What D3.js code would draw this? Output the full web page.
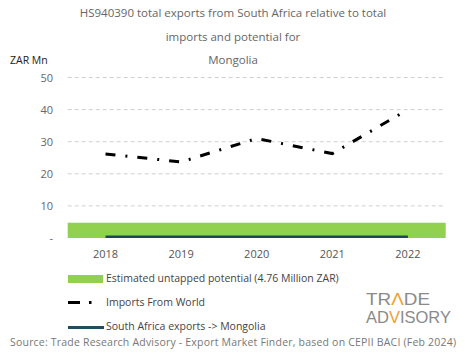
<!DOCTYPE html>
<html><head><meta charset="utf-8">
<script src="https://cdn.jsdelivr.net/npm/d3@7"></script>
<style>body{margin:0;background:#fff}svg{display:block;font-family:"Open Sans",sans-serif}</style>
</head><body><div id="chart"></div>
<script>
const years = ["2018","2019","2020","2021","2022"];
const importsWorld = [26.2, 23.7, 31.0, 26.3, 40.0];
const saExports = [0.05, 0.05, 0.05, 0.05, 0.05];
const potential = 4.76;
const yTicks = [0,10,20,30,40,50];
const titleLines = ["HS940390 total exports from South Africa relative  to total","imports and potential  for","Mongolia"];

const W=465,H=359;
const svg=d3.select("#chart").append("svg").attr("width",W).attr("height",H);
const x=d3.scaleBand().domain(years).range([67.7,445.7]);
const y=d3.scaleLinear().domain([0,50]).range([238,77.5]);

titleLines.forEach((t,i)=>svg.append("text").attr("x",233).attr("y",17+i*23.5)
  .attr("text-anchor","middle").attr("font-size",11.5).attr("fill","#666").text(t));
svg.append("text").attr("x",10).attr("y",64).attr("font-size",10.5).attr("fill","#222").text("ZAR Mn");

const ya=svg.append("g").attr("transform","translate(67,0)")
 .call(d3.axisLeft(y).tickValues(yTicks).tickSize(0).tickPadding(14).tickFormat(d=>d===0?"-":d));
ya.select(".domain").remove();
ya.selectAll("text").attr("font-size",11).attr("fill","#666").attr("font-family","Open Sans");

svg.append("g").selectAll("line").data(yTicks.filter(d=>d>0)).join("line")
 .attr("x1",67.7).attr("x2",445.7).attr("y1",d=>y(d)).attr("y2",d=>y(d))
 .attr("stroke","#d0d0d0").attr("stroke-dasharray","4,3").attr("stroke-width",1);

svg.append("rect").attr("x",x.range()[0]).attr("width",x.range()[1]-x.range()[0])
 .attr("y",y(potential)).attr("height",y(0)-y(potential)).attr("fill","#92d050");

const cx=d=>x(d)+x.bandwidth()/2;
svg.append("path").datum(saExports).attr("fill","none").attr("stroke","#1a4a50").attr("stroke-width",2.5)
 .attr("d",d3.line().x((d,i)=>cx(years[i])).y(d=>y(d)-1));

svg.append("path").datum(importsWorld).attr("fill","none").attr("stroke","#000").attr("stroke-width",3)
 .attr("stroke-dasharray","10,10,2,10")
 .attr("d",d3.line().x((d,i)=>cx(years[i])).y(d=>y(d)));

const xa=svg.append("g").attr("transform","translate(0,244)").call(d3.axisBottom(x).tickSize(0).tickPadding(6));
xa.select(".domain").remove();
xa.selectAll("text").attr("font-size",11).attr("fill","#555").attr("font-family","Open Sans");

// legend
const lg=svg.append("g");
lg.append("rect").attr("x",68).attr("y",275).attr("width",35).attr("height",8).attr("fill","#92d050");
lg.append("text").attr("x",106).attr("y",282).attr("font-size",10.5).attr("fill","#444").text("Estimated untapped potential (4.76 Million ZAR)");
lg.append("line").attr("x1",68).attr("x2",80).attr("y1",302.5).attr("y2",302.5).attr("stroke","#000").attr("stroke-width",3);
lg.append("line").attr("x1",89).attr("x2",91.5).attr("y1",302.5).attr("y2",302.5).attr("stroke","#000").attr("stroke-width",3);
lg.append("text").attr("x",106).attr("y",306).attr("font-size",10.5).attr("fill","#444").text("Imports From World");
lg.append("line").attr("x1",68).attr("x2",104).attr("y1",327.5).attr("y2",327.5).attr("stroke","#1f4e63").attr("stroke-width",3);
lg.append("text").attr("x",106).attr("y",330).attr("font-size",10.5).attr("fill","#444").text("South Africa exports -> Mongolia");

// logo: each piece a separate text, then scaled to target width
function logoLine(parts, x0, base, targetW){
  const g=svg.append("g");
  let cxp=0;
  parts.forEach(([t,c])=>{
    const el=g.append("text").attr("x",cxp).attr("y",0).attr("font-size",16).attr("fill",c)
      .attr("font-family","Liberation Sans Narrow, Liberation Sans, sans-serif").text(t);
    cxp+=el.node().getComputedTextLength();
  });
  g.attr("transform",`translate(${x0},${base}) scale(${targetW/cxp},1)`);
}
logoLine([["TR","#8a8a8a"],["Λ","#f0a030"],["DE","#8a8a8a"]],366,305,64);
logoLine([["AD","#8a8a8a"],["V","#f0a030"],["ISORY","#8a8a8a"]],366,323,85);

svg.append("text").attr("x",233).attr("y",346).attr("text-anchor","middle").attr("font-size",10.5).attr("fill","#777")
 .attr("textLength",446).text("Source: Trade Research Advisory - Export Market Finder, based on CEPII BACI (Feb 2024)");
</script></body></html>
